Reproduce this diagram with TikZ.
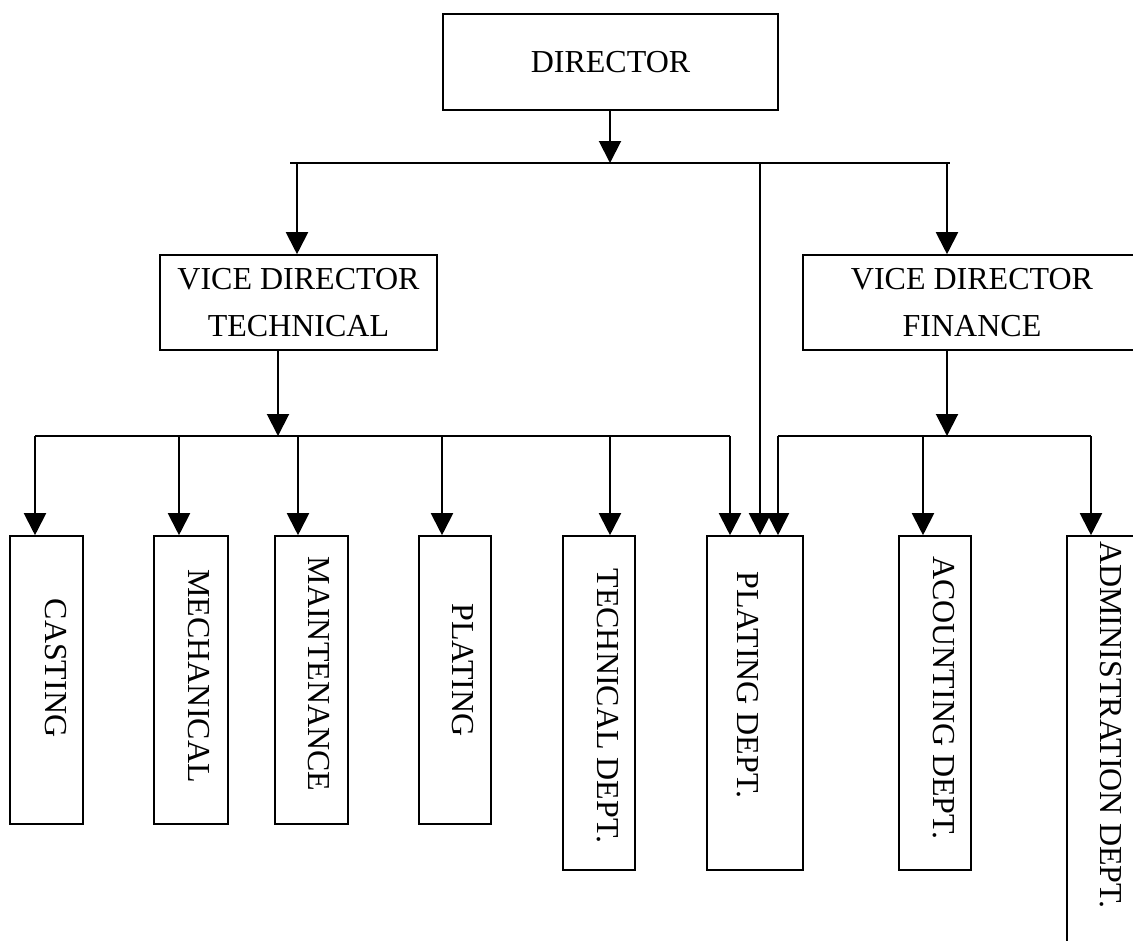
\documentclass[tikz,border=0pt]{standalone}
\usepackage{fontspec}
\setmainfont{Liberation Serif}
\usetikzlibrary{arrows.meta}
\begin{document}
\begin{tikzpicture}[x=0.75pt,y=-0.75pt,
  box/.style={draw, line width=1.2pt, inner sep=0pt, align=center,
    font=\fontsize{24}{35.25}\selectfont},
  vtext/.style={rotate=-90, inner sep=0pt, font=\fontsize{24}{30}\selectfont},
  link/.style={line width=1.5pt},
  arr/.style={line width=1.5pt, -{Triangle[width=16.5pt,length=16.5pt]}}]
\useasboundingbox (0,0) rectangle (1133,940);

% management boxes
\node[box, minimum width=251.25pt, minimum height=72pt] (dir) at (610.5,62) {DIRECTOR};
\node[box, minimum width=207.75pt, minimum height=71.25pt] (vdt) at (298.5,302.5) {VICE DIRECTOR\\TECHNICAL};
\node[box, minimum width=253.5pt, minimum height=71.25pt] (vdf) at (972,302.5) {VICE DIRECTOR\\FINANCE};

% department boxes
\node[box, minimum width=54.75pt, minimum height=216pt] (cast) at (46.5,680) {};
\node[box, minimum width=55.5pt, minimum height=216pt] (mech) at (191,680) {};
\node[box, minimum width=54.75pt, minimum height=216pt] (maint) at (311.5,680) {};
\node[box, minimum width=54pt, minimum height=216pt] (plat) at (455,680) {};
\node[box, minimum width=54pt, minimum height=250.5pt] (tech) at (599,703) {};
\node[box, minimum width=72pt, minimum height=250.5pt] (pdept) at (755,703) {};
\node[box, minimum width=54pt, minimum height=250.5pt] (acc) at (935,703) {};
\node[box, minimum width=64.5pt, minimum height=322.5pt] (adm) at (1110,751) {};

% department labels
\node[vtext] (casttxt) at (55.5,668) {CASTING};
\node[vtext] (mechtxt) at (199,676) {MECHANICAL};
\node[vtext] (mainttxt) at (319,674) {MAINTENANCE};
\node[vtext] (plattxt) at (463,670) {PLATING};
\node[vtext] (techtxt) at (608,706) {TECHNICAL DEPT.};
\node[vtext] (pdepttxt) at (748,685) {PLATING DEPT.};
\node[vtext] (acctxt) at (944,698) {ACOUNTING DEPT.};
\node[vtext] (admtxt) at (1111,725) {ADMINISTRATION DEPT.};

% bus coordinates
\coordinate (b0) at (610,163);
\coordinate (bl) at (290,163);
\coordinate (br) at (950,163);
\coordinate (b1) at (297,163);
\coordinate (b2) at (760,163);
\coordinate (b3) at (947,163);

\coordinate (t0) at (278,436);
\coordinate (tl) at (35,436);
\coordinate (tr) at (730,436);
\coordinate (t1) at (179,436);
\coordinate (t2) at (298,436);
\coordinate (t3) at (442,436);
\coordinate (t4) at (610,436);

\coordinate (f0) at (947,436);
\coordinate (fl) at (778,436);
\coordinate (f1) at (923,436);
\coordinate (fr) at (1091,436);

% director level
\draw[arr] (dir.south -| b0) -- (b0);
\draw[link] (bl) -- (br);
\draw[arr] (b1) -- (b1 |- vdt.north);
\draw[arr] (b2) -- (b2 |- pdept.north);
\draw[arr] (b3) -- (b3 |- vdf.north);

% technical branch
\draw[arr] (vdt.south -| t0) -- (t0);
\draw[link] (tl) -- (tr);
\draw[arr] (tl) -- (tl |- cast.north);
\draw[arr] (t1) -- (t1 |- mech.north);
\draw[arr] (t2) -- (t2 |- maint.north);
\draw[arr] (t3) -- (t3 |- plat.north);
\draw[arr] (t4) -- (t4 |- tech.north);
\draw[arr] (tr) -- (tr |- pdept.north);

% finance branch
\draw[arr] (vdf.south -| f0) -- (f0);
\draw[link] (fl) -- (fr);
\draw[arr] (fl) -- (fl |- pdept.north);
\draw[arr] (f1) -- (f1 |- acc.north);
\draw[arr] (fr) -- (fr |- adm.north);
\end{tikzpicture}
\end{document}
